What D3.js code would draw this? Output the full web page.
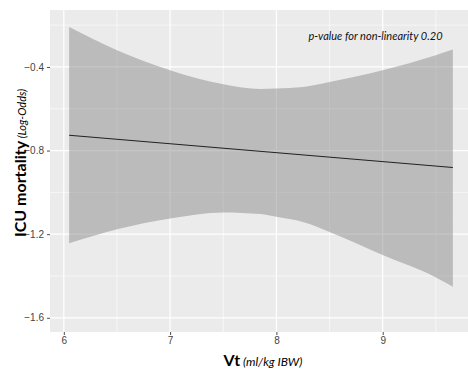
<!DOCTYPE html>
<html>
<head>
<meta charset="utf-8">
<script src="https://cdn.jsdelivr.net/npm/d3@7"></script>
<style>
  body { margin: 0; background: #fff; }
  svg { display: block; }
</style>
</head>
<body>
<svg id="chart"></svg>
<script>
// values
const vt = [6.05, 6.5, 7, 7.5, 7.85, 8, 8.25, 8.5, 9, 9.5, 9.66];
const upper = [-0.209, -0.320, -0.416, -0.483, -0.505, -0.503, -0.496, -0.472, -0.416, -0.344, -0.317];
const lower = [-1.244, -1.177, -1.125, -1.096, -1.104, -1.117, -1.142, -1.189, -1.300, -1.407, -1.452];
const fitX = [6.05, 9.66];
const fitY = [-0.727, -0.881];
const xTicks = [6, 7, 8, 9];
const yTicks = [-0.4, -0.8, -1.2, -1.6];
const xMinor = [6.5, 7.5, 8.5, 9.5];
const yMinor = [-0.2, -0.6, -1.0, -1.4];

const w = 468, h = 371;
const panel = { left: 50, right: 472, top: 10, bottom: 332 };

const svg = d3.select('#chart')
  .attr('width', w)
  .attr('height', h);

const x = d3.scaleLinear()
  .domain([5.87, 9.84])
  .range([panel.left, panel.right]);
const y = d3.scaleLinear()
  .domain([-1.668, -0.1275])
  .range([panel.bottom, panel.top]);

svg.append('rect')
  .attr('x', panel.left)
  .attr('y', panel.top)
  .attr('width', panel.right - panel.left)
  .attr('height', panel.bottom - panel.top)
  .attr('fill', '#ebebeb');

// grid
svg.selectAll('line.xminor').data(xMinor).enter().append('line')
  .attr('x1', d => x(d)).attr('x2', d => x(d))
  .attr('y1', panel.top).attr('y2', panel.bottom)
  .attr('stroke', '#fff').attr('stroke-width', 0.6);
svg.selectAll('line.yminor').data(yMinor).enter().append('line')
  .attr('y1', d => y(d)).attr('y2', d => y(d))
  .attr('x1', panel.left).attr('x2', panel.right)
  .attr('stroke', '#fff').attr('stroke-width', 0.6);
svg.selectAll('line.xmajor').data(xTicks).enter().append('line')
  .attr('x1', d => x(d)).attr('x2', d => x(d))
  .attr('y1', panel.top).attr('y2', panel.bottom)
  .attr('stroke', '#fff').attr('stroke-width', 1.2);
svg.selectAll('line.ymajor').data(yTicks).enter().append('line')
  .attr('y1', d => y(d)).attr('y2', d => y(d))
  .attr('x1', panel.left).attr('x2', panel.right)
  .attr('stroke', '#fff').attr('stroke-width', 1.2);

// confidence band
const band = vt.map((v, i) => ({ x: v, lo: lower[i], hi: upper[i] }));
const area = d3.area()
  .x(d => x(d.x))
  .y0(d => y(d.lo))
  .y1(d => y(d.hi))
  .curve(d3.curveMonotoneX);
svg.append('path')
  .datum(band)
  .attr('d', area)
  .attr('fill', '#8b8b8b')
  .attr('fill-opacity', 0.5);

const line = d3.line()
  .x(d => x(d[0]))
  .y(d => y(d[1]));
svg.append('path')
  .datum(fitX.map((v, i) => [v, fitY[i]]))
  .attr('d', line)
  .attr('fill', 'none')
  .attr('stroke', '#222')
  .attr('stroke-width', 1.1);

// axes
const xAxis = d3.axisBottom(x).tickValues(xTicks).tickSize(3).tickPadding(2).tickFormat(d3.format('d'));
const yAxis = d3.axisLeft(y).tickValues(yTicks).tickSize(3).tickPadding(3).tickFormat(d3.format('.1f'));

const gx = svg.append('g')
  .attr('transform', `translate(0,${panel.bottom})`)
  .call(xAxis);
const gy = svg.append('g')
  .attr('transform', `translate(${panel.left},0)`)
  .call(yAxis);
[gx, gy].forEach(g => {
  g.select('.domain').remove();
  g.selectAll('line').attr('stroke', '#4d4d4d');
  g.selectAll('text')
    .attr('fill', '#444')
    .style('font-family', 'Liberation Sans, Arial, sans-serif')
    .style('font-size', '10px');
});

// titles
const xt = svg.append('text')
  .attr('x', 263)
  .attr('y', 366)
  .attr('text-anchor', 'middle')
  .style('font-family', 'Lato, sans-serif')
  .attr('fill', '#000');
xt.append('tspan').text('Vt').style('font-weight', 'bold').style('font-size', '16px');
xt.append('tspan').text(' (ml/kg IBW)').style('font-style', 'italic').style('font-size', '12px');

const yt = svg.append('text')
  .attr('transform', 'translate(26,163) rotate(-90)')
  .attr('text-anchor', 'middle')
  .style('font-family', 'Lato, sans-serif')
  .attr('fill', '#000');
yt.append('tspan').text('ICU mortality').style('font-weight', 'bold').style('font-size', '16px');
yt.append('tspan').text(' (Log-Odds)').style('font-style', 'italic').style('font-size', '11px');

svg.append('text')
  .attr('x', 375.5)
  .attr('y', 40)
  .attr('text-anchor', 'middle')
  .style('font-family', 'Lato, sans-serif')
  .style('font-style', 'italic')
  .style('font-size', '11px')
  .attr('fill', '#111')
  .text('p-value for non-linearity 0.20');
</script>
</body>
</html>
